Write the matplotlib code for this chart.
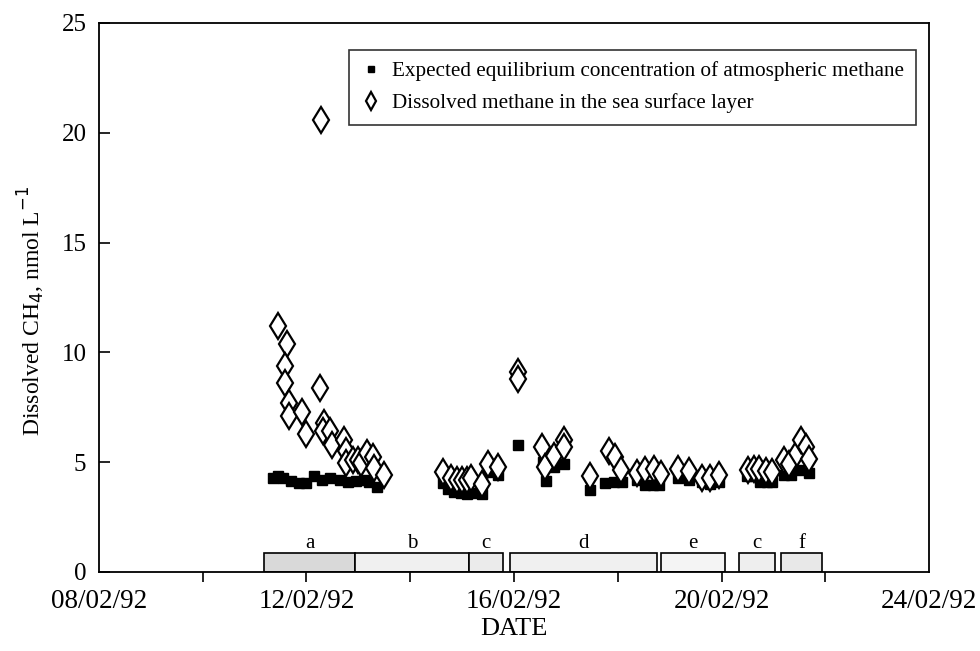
import matplotlib
matplotlib.use("Agg")
import matplotlib.pyplot as plt

plt.rcParams['font.family'] = ['Liberation Serif', 'DejaVu Serif']

# x values are days of February 1992
eq_day = [11.35, 11.45, 11.55, 11.7, 11.85, 12.0, 12.15, 12.3, 12.45, 12.65, 12.8, 12.95, 13.1, 13.2, 13.35,
          14.63, 14.72, 14.85, 14.98, 15.1, 15.22, 15.39, 15.49, 15.7,
          16.07, 16.55, 16.62, 16.77, 16.97, 17.46,
          17.75, 17.92, 18.08, 18.37, 18.52, 18.67, 18.8,
          19.16, 19.37, 19.62, 19.78, 19.95,
          20.5, 20.63, 20.75, 20.87, 20.98,
          21.21, 21.33, 21.5, 21.69]
eq_val = [4.3, 4.35, 4.3, 4.15, 4.05, 4.05, 4.35, 4.2, 4.3, 4.2, 4.1, 4.15, 4.2, 4.1, 3.85,
          4.05, 3.8, 3.65, 3.6, 3.55, 3.6, 3.55, 4.55, 4.4,
          5.8, 5.0, 4.15, 4.8, 4.9, 3.75,
          4.05, 4.1, 4.1, 4.2, 3.95, 3.95, 3.95,
          4.3, 4.2, 4.1, 4.0, 4.1,
          4.35, 4.35, 4.1, 4.1, 4.1,
          4.4, 4.4, 4.65, 4.5]

ch4_day = [11.46, 11.62, 11.58, 11.58, 11.66, 11.66, 11.91, 12.0, 12.27, 12.26, 12.33, 12.31, 12.45, 12.5,
           12.72, 12.76, 12.76, 12.9, 13.0, 13.05, 13.16, 13.28, 13.3, 13.49,
           14.63, 14.79, 14.9, 15.0, 15.1, 15.18, 15.39, 15.49, 15.7,
           16.07, 16.07, 16.53, 16.59, 16.77, 16.97, 16.97, 17.46,
           17.83, 17.94, 18.07, 18.37, 18.52, 18.7, 18.83,
           19.16, 19.37, 19.62, 19.78, 19.95,
           20.51, 20.63, 20.73, 20.85, 20.98,
           21.21, 21.31, 21.46, 21.54, 21.62, 21.68]
ch4_val = [11.2, 10.4, 9.4, 8.6, 7.7, 7.1, 7.3, 6.3, 20.6, 8.4, 6.8, 6.4, 6.4, 5.8,
           6.0, 5.5, 4.95, 5.1, 5.1, 4.95, 5.4, 5.25, 4.75, 4.4,
           4.55, 4.3, 4.2, 4.2, 4.2, 4.3, 4.0, 4.9, 4.8,
           9.1, 8.8, 5.7, 4.8, 5.3, 6.0, 5.7, 4.35,
           5.5, 5.25, 4.65, 4.5, 4.65, 4.7, 4.45,
           4.7, 4.6, 4.3, 4.3, 4.4,
           4.65, 4.7, 4.7, 4.6, 4.55,
           5.1, 4.9, 5.4, 6.0, 5.7, 5.15]

period_labels = ['a', 'b', 'c', 'd', 'e', 'c', 'f']
period_start = [11.19, 12.93, 15.14, 15.93, 18.83, 20.34, 21.15]
period_end = [12.93, 15.14, 15.78, 18.75, 20.07, 21.04, 21.93]
period_fill = ['#d9d9d9', '#f0f0f0', '#ebebeb', '#f0f0f0', '#f4f4f4', '#eeeeee', '#e8e8e8']

tick_days = [8, 12, 16, 20, 24]
tick_labels = ['08/02/92', '12/02/92', '16/02/92', '20/02/92', '24/02/92']
minor_days = [10, 14, 18, 22]

fig = plt.figure(figsize=(9.8, 6.51), dpi=100)
ax = fig.add_axes([0.101, 0.1214, 0.847, 0.8433])

widths = [e - s for s, e in zip(period_start, period_end)]
ax.bar(period_start, 0.85, width=widths, align='edge', bottom=0,
       color=period_fill, edgecolor='black', linewidth=1.2, zorder=2)
for s, e, lab in zip(period_start, period_end, period_labels):
    ax.text((s + e) / 2, 1.1, lab, ha='center', va='baseline', fontsize=15)

ax.plot(eq_day, eq_val, 's', color='black', markersize=7, linestyle='none', zorder=3,
        label='Expected equilibrium concentration of atmospheric methane')
ax.plot(ch4_day, ch4_val, 'd', markerfacecolor='white', markeredgecolor='black',
        markeredgewidth=1.6, markersize=13, linestyle='none', zorder=4,
        label='Dissolved methane in the sea surface layer')

ax.set_xlim(8, 24)
ax.set_ylim(0, 25)
ax.set_xticks(tick_days)
ax.set_xticklabels(tick_labels)
ax.set_xticks(minor_days, minor=True)
ax.set_yticks([0, 5, 10, 15, 20, 25])
ax.tick_params(axis='x', which='both', direction='out', length=7, width=1.2,
               labelsize=19.5, pad=5, top=False)
ax.tick_params(axis='y', direction='in', length=8, width=1.2, labelsize=18, pad=9, right=False)
for i in (0, -1):
    ax.xaxis.get_major_ticks()[i].tick1line.set_visible(False)
for sp in ax.spines.values():
    sp.set_linewidth(1.3)

ax.set_xlabel('DATE', fontsize=19, labelpad=3)
ax.set_ylabel('Dissolved CH$_4$, nmol L$^{-1}$', fontsize=17)
ax.yaxis.set_label_coords(-0.063, 0.475)

leg = ax.legend(loc='upper left', bbox_to_anchor=(0.301, 0.951), borderaxespad=0,
                fontsize=15.2, frameon=True, fancybox=False, borderpad=0.55,
                labelspacing=0.55, handletextpad=0.5, handlelength=1.0, markerscale=0.7)
leg.get_frame().set_edgecolor('black')
leg.get_frame().set_linewidth(1.2)

fig.savefig('out.png', dpi=100)
